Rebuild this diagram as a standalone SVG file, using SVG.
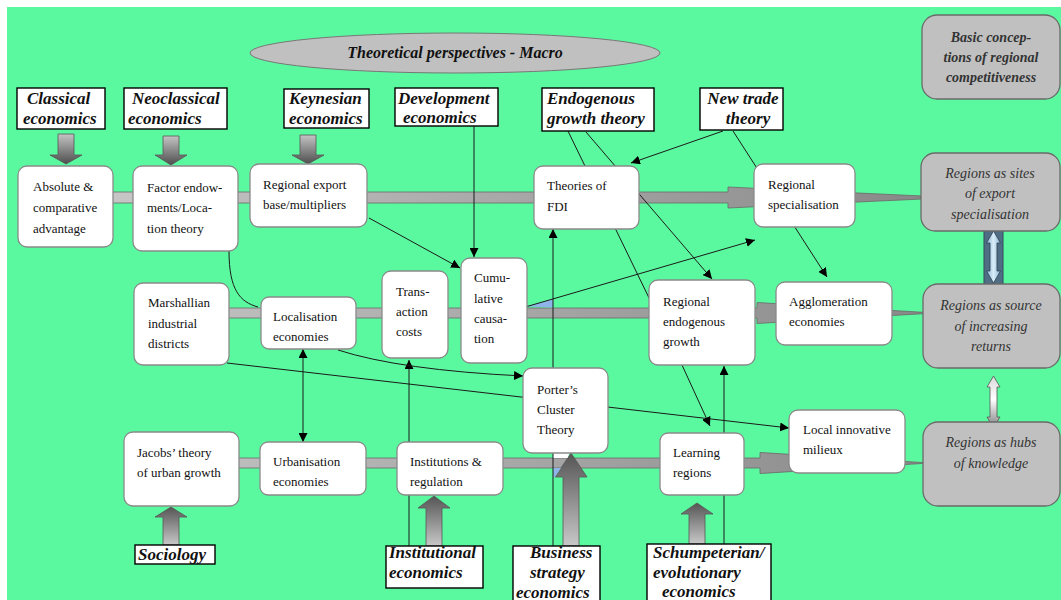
<svg xmlns="http://www.w3.org/2000/svg" width="1061" height="600" viewBox="0 0 1061 600">
  <defs>
    <style>
      .node rect { fill: #ffffff; stroke: #8a8a8a; stroke-width: 1.3; }
      .node text { font-family: "Liberation Serif", "Times New Roman", serif; font-size: 13px; fill: #111; }
      .label rect { fill: #ffffff; stroke: #000; stroke-width: 1.4; }
      .label text { font-family: "Liberation Serif", "Times New Roman", serif; font-size: 17px; font-weight: bold; font-style: italic; fill: #111; }
      .concept rect { fill: #c0c0c0; stroke: #6a6a6a; stroke-width: 1.3; }
      .concept text { font-family: "Liberation Serif", "Times New Roman", serif; font-size: 14px; font-style: italic; fill: #333; text-anchor: middle; }
      .link { fill: none; stroke: #1a1a1a; stroke-width: 1; }
      .bar { stroke: #6a6a6a; stroke-width: 0.8; }
      .block { stroke: #555; stroke-width: 0.8; }
    </style>
    <marker id="tip" viewBox="0 0 10 10" refX="10" refY="5" markerWidth="9" markerHeight="9" markerUnits="userSpaceOnUse" orient="auto-start-reverse">
      <path d="M0,0 L10,5 L0,10 z" fill="#000"/>
    </marker>
    <linearGradient id="barGrad" gradientUnits="userSpaceOnUse" x1="110" y1="0" x2="940" y2="0">
      <stop offset="0" stop-color="#c6c6c6"/>
      <stop offset="1" stop-color="#878787"/>
    </linearGradient>
    <linearGradient id="downGrad" x1="0" y1="0" x2="0" y2="1">
      <stop offset="0" stop-color="#c4c4c4"/>
      <stop offset="1" stop-color="#4e4e4e"/>
    </linearGradient>
    <linearGradient id="upGrad" x1="0" y1="0" x2="0" y2="1">
      <stop offset="0" stop-color="#555"/>
      <stop offset="1" stop-color="#c8c8c8"/>
    </linearGradient>
    <linearGradient id="blueGrad" x1="0" y1="0" x2="1" y2="0">
      <stop offset="0" stop-color="#8db3d2"/>
      <stop offset="0.5" stop-color="#d8edf9"/>
      <stop offset="1" stop-color="#8db3d2"/>
    </linearGradient>
    <linearGradient id="greyDbl" x1="0" y1="0" x2="0" y2="1">
      <stop offset="0" stop-color="#d8d8d8"/>
      <stop offset="0.45" stop-color="#ffffff"/>
      <stop offset="1" stop-color="#7e7e7e"/>
    </linearGradient>
  </defs>

  <!-- canvas -->
  <rect x="0" y="0" width="1061" height="600" fill="#ffffff"/>
  <rect x="7" y="7" width="1054" height="593" fill="#5bf99f"/>

  <!-- title -->
  <g id="title">
    <ellipse cx="455" cy="53" rx="205" ry="20" fill="#c0c0c0" stroke="#777" stroke-width="1"/>
    <text x="455" y="58" text-anchor="middle" font-family="Liberation Serif, serif" font-size="16" font-weight="bold" font-style="italic" fill="#111">Theoretical perspectives - Macro</text>
  </g>

  <!-- horizontal block arrows -->
  <g id="bars">
    <polygon class="bar" fill="url(#barGrad)" points="100,192 728,192 728,187 955,197.5 728,208 728,203 100,203"/>
    <polygon class="bar" fill="url(#barGrad)" points="220,308 757,308 757,302.5 935,313 757,323.5 757,318 220,318"/>
    <polygon class="bar" fill="url(#barGrad)" points="230,458 760,458 760,452.5 930,463 760,473.5 760,468 230,468"/>
  </g>

  <!-- vertical block arrows -->
  <g id="block-arrows">
    <polygon class="block" fill="url(#downGrad)" points="58,134 74,134 74,155 82,155 66,164 50,155 58,155"/>
    <polygon class="block" fill="url(#downGrad)" points="163,136 179,136 179,155 187,155 171,165 155,155 163,155"/>
    <polygon class="block" fill="url(#downGrad)" points="300,135 316,135 316,155 324,155 308,164 292,155 300,155"/>
    <polygon class="block" fill="url(#upGrad)" points="171,507 187,517 179,517 179,545 163,545 163,517 155,517"/>
    <polygon class="block" fill="url(#upGrad)" points="434,496 450,508 442,508 442,546 426,546 426,508 418,508"/>
    <polygon class="block" fill="url(#upGrad)" points="571,453 587,477 579,477 579,546 563,546 563,477 555,477"/>
    <polygon class="block" fill="url(#upGrad)" points="697,503 713,514 705,514 705,544 689,544 689,514 681,514"/>
    <!-- double arrows between the conceptions -->
    <rect x="984" y="228" width="19" height="58" fill="#4f6e85" stroke="#34495a" stroke-width="1"/>
    <polygon fill="url(#blueGrad)" stroke="#2d3e4c" stroke-width="0.8" points="993.5,231 1000.5,243 997,243 997,271 1000.5,271 993.5,283 986.5,271 990,271 990,243 986.5,243"/>
    <polygon fill="url(#greyDbl)" stroke="#555" stroke-width="0.8" points="993.5,376 1000,387 997,387 997,417 1000,417 993.5,428 987,417 990,417 990,387 987,387"/>
  </g>

  <!-- thin connectors -->
  <g id="connectors">
    <path class="link" d="M474,126 V257" marker-end="url(#tip)"/>
    <path class="link" d="M369,218 L460,268" marker-end="url(#tip)"/>
    <path class="link" d="M567,129 L651,302"/>
    <path class="link" d="M586,132 L712,279" marker-end="url(#tip)"/>
    <path class="link" d="M723,131 L631,163" marker-end="url(#tip)"/>
    <path class="link" d="M733,131 L827,277" marker-end="url(#tip)"/>
    <polygon points="527,306.5 553,299 553,307.5" fill="#8fb4e8"/>
    <path class="link" d="M527,306.5 L755,240" marker-end="url(#tip)"/>
    <polygon points="553,468 561,468 555,477 553,477" fill="#8fb4e8"/>
    <polygon points="553,452 570,452 567.5,458 553,458" fill="#ffffff"/>
    <path class="link" d="M553,546 V229" stroke="#555" marker-end="url(#tip)"/>
    <path class="link" d="M303,442 V349" stroke="#444" marker-start="url(#tip)" marker-end="url(#tip)"/>
    <path class="link" d="M409,546 V360" stroke="#333" marker-end="url(#tip)"/>
    <path class="link" d="M338,350 Q400,370 523,376" marker-end="url(#tip)"/>
    <path class="link" d="M227,363 L789,428" marker-end="url(#tip)"/>
    <path class="link" d="M682,365 L710,426" marker-end="url(#tip)"/>
    <path class="link" d="M724,544 V366" stroke="#555" marker-end="url(#tip)"/>
    <path class="link" d="M229,251 C229,290 240,302 258,307" stroke-width="0.8"/>
  </g>

  <!-- source disciplines -->
  <g id="classical" class="label">
    <rect x="17" y="88" width="88" height="41"/>
    <text x="27" y="104">Classical</text>
    <text x="23" y="124">economics</text>
  </g>
  <g id="neoclassical" class="label">
    <rect x="124" y="88" width="103" height="41"/>
    <text x="132" y="104">Neoclassical</text>
    <text x="128" y="124">economics</text>
  </g>
  <g id="keynesian" class="label">
    <rect x="284" y="89" width="85" height="39"/>
    <text x="289" y="104">Keynesian</text>
    <text x="289" y="124">economics</text>
  </g>
  <g id="development" class="label">
    <rect x="395" y="88" width="103" height="38"/>
    <text x="398" y="104">Development</text>
    <text x="403" y="123">economics</text>
  </g>
  <g id="endogenous" class="label">
    <rect x="542" y="88" width="112" height="43"/>
    <text x="547" y="104">Endogenous</text>
    <text x="547" y="124">growth theory</text>
  </g>
  <g id="new-trade" class="label">
    <rect x="700" y="88" width="83" height="42"/>
    <text x="743" y="104" text-anchor="middle">New trade</text>
    <text x="748" y="124" text-anchor="middle">theory</text>
  </g>
  <g id="sociology" class="label">
    <rect x="135" y="545" width="80" height="19"/>
    <text x="138" y="560">Sociology</text>
  </g>
  <g id="institutional" class="label">
    <rect x="386" y="546" width="97" height="42"/>
    <text x="389" y="558">Institutional</text>
    <text x="389" y="578">economics</text>
  </g>
  <g id="business" class="label">
    <rect x="513" y="546" width="87" height="60"/>
    <text x="530" y="558">Business</text>
    <text x="530" y="578">strategy</text>
    <text x="516" y="598">economics</text>
  </g>
  <g id="schumpeterian" class="label">
    <rect x="647" y="544" width="124" height="62"/>
    <text x="653" y="558">Schumpeterian/</text>
    <text x="653" y="578">evolutionary</text>
    <text x="662" y="597">economics</text>
  </g>

  <!-- theories -->
  <g id="absolute" class="node">
    <rect x="18" y="166" width="95" height="81" rx="9"/>
    <text x="33" y="191">Absolute &amp;</text>
    <text x="33" y="212">comparative</text>
    <text x="33" y="233">advantage</text>
  </g>
  <g id="factor" class="node">
    <rect x="133" y="166" width="105" height="85" rx="9"/>
    <text x="147" y="192">Factor endow-</text>
    <text x="147" y="212">ments/Loca-</text>
    <text x="147" y="233">tion theory</text>
  </g>
  <g id="export-base" class="node">
    <rect x="250" y="164" width="117" height="63" rx="9"/>
    <text x="263" y="189">Regional export</text>
    <text x="263" y="209">base/multipliers</text>
  </g>
  <g id="fdi" class="node">
    <rect x="534" y="166" width="105" height="63" rx="9"/>
    <text x="547" y="190">Theories of</text>
    <text x="547" y="211">FDI</text>
  </g>
  <g id="specialisation" class="node">
    <rect x="754" y="164" width="101" height="63" rx="9"/>
    <text x="768" y="189">Regional</text>
    <text x="768" y="209">specialisation</text>
  </g>
  <g id="marshallian" class="node">
    <rect x="134" y="283" width="95" height="82" rx="9"/>
    <text x="148" y="307">Marshallian</text>
    <text x="148" y="328">industrial</text>
    <text x="148" y="348">districts</text>
  </g>
  <g id="localisation" class="node">
    <rect x="261" y="297" width="95" height="52" rx="8"/>
    <text x="273" y="321">Localisation</text>
    <text x="273" y="341">economies</text>
  </g>
  <g id="transaction" class="node">
    <rect x="382" y="271" width="66" height="87" rx="9"/>
    <text x="396" y="296">Trans-</text>
    <text x="396" y="316">action</text>
    <text x="396" y="336">costs</text>
  </g>
  <g id="cumulative" class="node">
    <rect x="461" y="258" width="66" height="105" rx="9"/>
    <text x="474" y="282">Cumu-</text>
    <text x="474" y="303">lative</text>
    <text x="474" y="323">causa-</text>
    <text x="474" y="343">tion</text>
  </g>
  <g id="endogenous-growth" class="node">
    <rect x="649" y="280" width="106" height="85" rx="9"/>
    <text x="663" y="306">Regional</text>
    <text x="663" y="326">endogenous</text>
    <text x="663" y="346">growth</text>
  </g>
  <g id="agglomeration" class="node">
    <rect x="776" y="282" width="116" height="63" rx="9"/>
    <text x="789" y="306">Agglomeration</text>
    <text x="789" y="326">economies</text>
  </g>
  <g id="porter" class="node">
    <rect x="523" y="368" width="85" height="85" rx="9"/>
    <text x="537" y="394">Porter’s</text>
    <text x="537" y="414">Cluster</text>
    <text x="537" y="434">Theory</text>
  </g>
  <g id="jacobs" class="node">
    <rect x="124" y="432" width="115" height="74" rx="9"/>
    <text x="137" y="457">Jacobs’ theory</text>
    <text x="137" y="477">of urban growth</text>
  </g>
  <g id="urbanisation" class="node">
    <rect x="260" y="442" width="106" height="53" rx="8"/>
    <text x="273" y="466">Urbanisation</text>
    <text x="273" y="486">economies</text>
  </g>
  <g id="institutions" class="node">
    <rect x="397" y="442" width="106" height="53" rx="8"/>
    <text x="410" y="466">Institutions &amp;</text>
    <text x="410" y="486">regulation</text>
  </g>
  <g id="learning" class="node">
    <rect x="660" y="433" width="84" height="62" rx="8"/>
    <text x="673" y="457">Learning</text>
    <text x="673" y="477">regions</text>
  </g>
  <g id="milieux" class="node">
    <rect x="789" y="410" width="116" height="63" rx="9"/>
    <text x="803" y="434">Local innovative</text>
    <text x="803" y="454">milieux</text>
  </g>

  <!-- basic conceptions of competitiveness -->
  <g id="basic" class="concept">
    <rect x="922" y="15" width="138" height="84" rx="15"/>
    <text x="991" y="42" font-weight="bold" fill="#222">Basic concep-</text>
    <text x="991" y="62" font-weight="bold" fill="#222">tions of regional</text>
    <text x="991" y="82" font-weight="bold" fill="#222">competitiveness</text>
  </g>
  <g id="export-sites" class="concept">
    <rect x="921" y="153" width="139" height="78" rx="14"/>
    <text x="990" y="178">Regions as sites</text>
    <text x="990" y="198">of export</text>
    <text x="990" y="219">specialisation</text>
  </g>
  <g id="increasing-returns" class="concept">
    <rect x="923" y="284" width="137" height="84" rx="15"/>
    <text x="991" y="310">Regions as source</text>
    <text x="991" y="331">of increasing</text>
    <text x="991" y="351">returns</text>
  </g>
  <g id="knowledge-hubs" class="concept">
    <rect x="923" y="422" width="137" height="84" rx="15"/>
    <text x="991" y="447">Regions as hubs</text>
    <text x="991" y="468">of knowledge</text>
  </g>
</svg>
